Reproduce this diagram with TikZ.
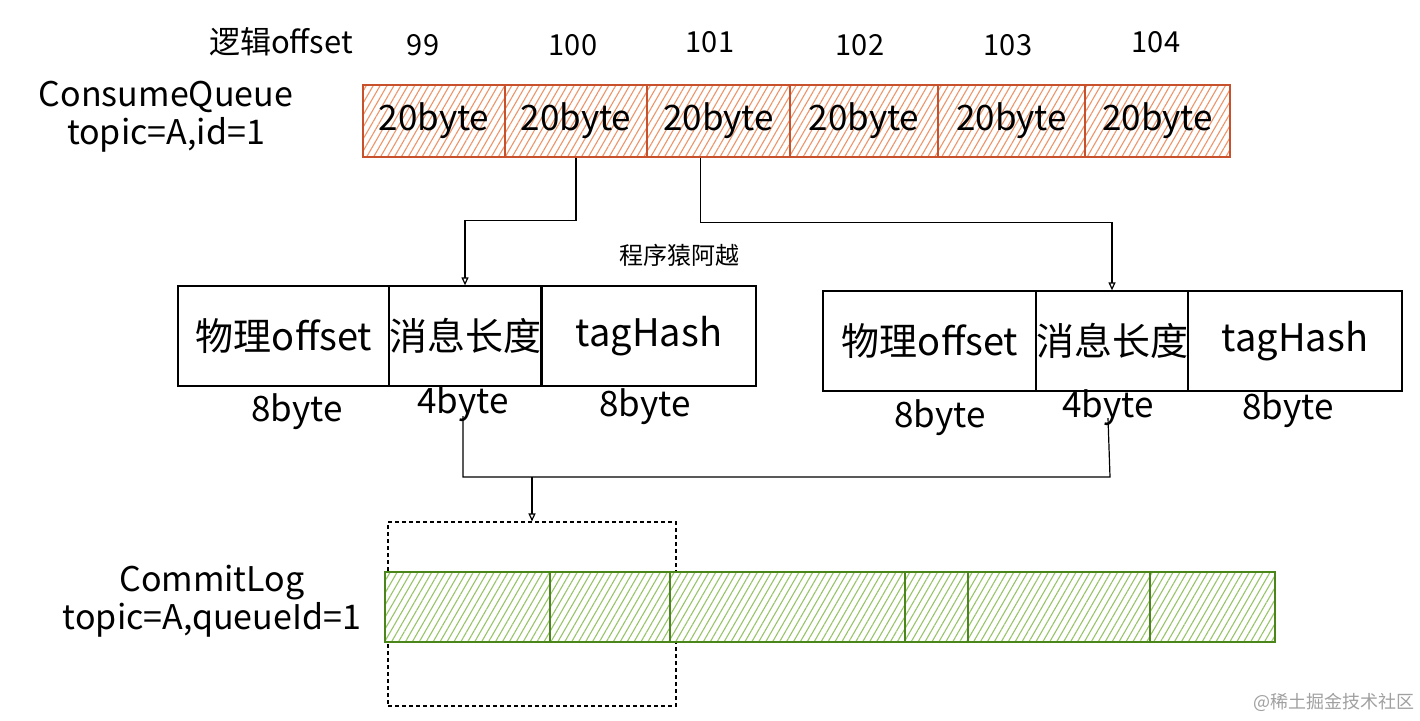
\documentclass[tikz,border=0pt]{standalone}
\usepackage{fontspec}
\setmainfont{Noto Sans CJK SC}
\usetikzlibrary{arrows.meta,patterns.meta}
\definecolor{cqred}{HTML}{C8502A}
\definecolor{cqfill}{HTML}{EE9468}
\definecolor{clgreen}{HTML}{4A861A}
\definecolor{clfill}{HTML}{98C468}
\definecolor{wmgrey}{HTML}{A0A0A0}
\tikzset{
  fs/.style={font=\fontsize{#1}{#1}\selectfont},
  cqcell/.style={draw=cqred, line width=1.5pt, preaction={fill=white},
    pattern={Lines[angle=60,distance=6pt,line width=1.1pt]}, pattern color=cqfill,
    minimum height=72pt, inner sep=0pt, fs=35},
  clcell/.style={draw=clgreen, line width=1.7pt, preaction={fill=white},
    pattern={Lines[angle=60,distance=6pt,line width=1.1pt]}, pattern color=clfill,
    minimum height=70pt, inner sep=0pt},
  field/.style={draw=black, line width=1.3pt, fill=white, minimum height=100pt,
    inner sep=0pt, fs=38},
  lbl/.style={inner sep=0pt, fs=#1},
  conn/.style={draw=black, line width=1.2pt},
  arr/.style={conn, -{Triangle[open, length=8pt, width=7pt]}},
  dbox/.style={draw=black, line width=1.1pt, dash pattern=on 4pt off 3pt,
    minimum width=288pt, minimum height=184pt, inner sep=0pt}
}
\begin{document}
\begin{tikzpicture}[x=1pt,y=-1pt]
\useasboundingbox (0,0) rectangle (1420,720);

% top labels
\node[lbl=31] (lo) at (281,42) {逻辑offset};
\node[lbl=29] (o99) at (423,45) {99};
\node[lbl=29] (o100) at (573,45) {100};
\node[lbl=29] (o101) at (710,42) {101};
\node[lbl=29] (o102) at (860,45) {102};
\node[lbl=29] (o103) at (1008,45) {103};
\node[lbl=29] (o104) at (1156,42) {104};

% ConsumeQueue label
\node[lbl=34, align=center] (cqlbl) at (166,117) {ConsumeQueue\\[4pt]topic=A,id=1};

% ConsumeQueue cells
\node[cqcell, minimum width=142pt] (q1) at (434,121) {20byte};
\node[cqcell, minimum width=142pt] (q2) at (576,121) {20byte};
\node[cqcell, minimum width=143pt] (q3) at (718.5,121) {20byte};
\node[cqcell, minimum width=148pt] (q4) at (864,121) {20byte};
\node[cqcell, minimum width=147pt] (q5) at (1011.5,121) {20byte};
\node[cqcell, minimum width=145pt] (q6) at (1157.5,121) {20byte};

% author label
\node[lbl=24] (auth) at (679,255) {程序猿阿越};

% left field group
\node[field, minimum width=212pt] (f1a) at (284,336) {物理offset};
\node[field, minimum width=150pt] (f1b) at (465,336) {消息长度};
\node[field, minimum width=214pt] (f1c) at (649,336) {tagHash};
\node[lbl=35] (b1) at (297,412) {8byte};
\node[lbl=35] (b2) at (463,404) {4byte};
\node[lbl=35] (b3) at (645,407) {8byte};

% right field group
\node[field, minimum width=214pt] (f2a) at (930,341) {物理offset};
\node[field, minimum width=150pt] (f2b) at (1112,341) {消息长度};
\node[field, minimum width=214pt] (f2c) at (1295,341) {tagHash};
\node[lbl=35] (b4) at (940,418) {8byte};
\node[lbl=35] (b5) at (1108,408) {4byte};
\node[lbl=35] (b6) at (1288,410) {8byte};

% connectors from ConsumeQueue to field groups
\draw[arr] (q2.south) -- ++(0,63) -| (f1b.north);
\draw[arr] ([xshift=-18pt]q3.south) -- ++(0,65) -| (f2b.north);

% dashed selection box
\node[dbox] (sel) at (532,614) {};

% CommitLog label
\node[lbl=34, align=center] (cllbl) at (212,601) {CommitLog\\[2pt]topic=A,queueId=1};

% CommitLog cells
\node[clcell, minimum width=165pt] (c1) at (467.5,607) {};
\node[clcell, minimum width=120pt] (c2) at (610,607) {};
\node[clcell, minimum width=235pt] (c3) at (787.5,607) {};
\node[clcell, minimum width=63pt] (c4) at (936.5,607) {};
\node[clcell, minimum width=182pt] (c5) at (1059,607) {};
\node[clcell, minimum width=125pt] (c6) at (1212.5,607) {};

% bracket joining the two message lengths, and arrow to CommitLog
\coordinate (jl) at (463,477);
\coordinate (jr) at (1110,477);
\draw[conn] ([yshift=6pt]b2.south) -- (jl) -- (jr) -- ([yshift=8pt]b5.south);
\draw[arr] (sel.north |- jl) -- (sel.north);

% site mark
\node[lbl=18, text=wmgrey, anchor=east] (wm) at (1415,702) {@稀土掘金技术社区};
\end{tikzpicture}
\end{document}
